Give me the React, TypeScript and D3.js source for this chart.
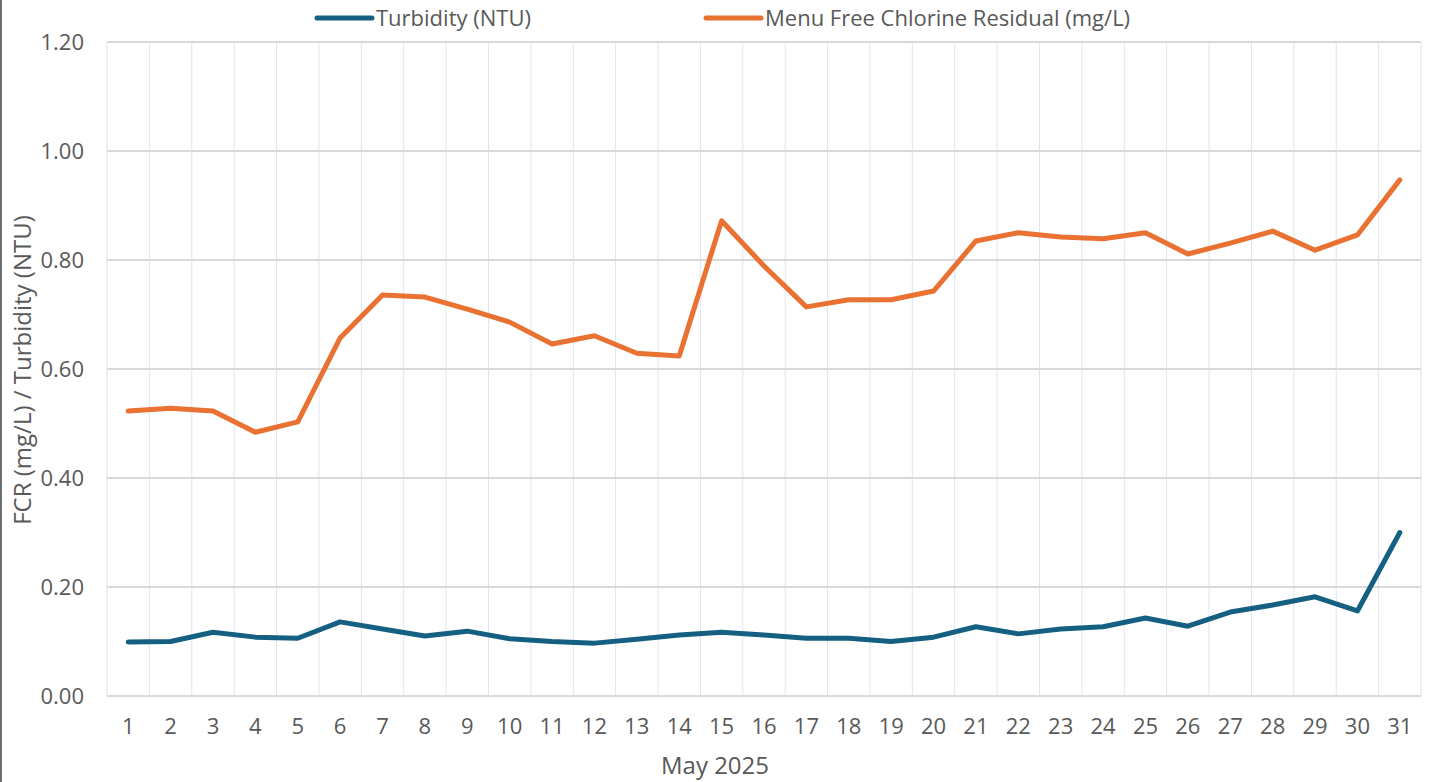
import React, { useEffect, useRef } from 'react'
import * as d3 from 'd3'

const days = Array.from({ length: 31 }, (_, i) => String(i + 1))
const turbidity = [0.099, 0.1, 0.117, 0.108, 0.106, 0.136, 0.123, 0.11, 0.119, 0.105, 0.1, 0.097, 0.104, 0.112, 0.117, 0.112, 0.106, 0.106, 0.1, 0.108, 0.127, 0.114, 0.123, 0.127, 0.143, 0.128, 0.154, 0.167, 0.182, 0.156, 0.3]
const fcr = [0.523, 0.528, 0.523, 0.484, 0.503, 0.657, 0.736, 0.732, 0.71, 0.686, 0.646, 0.661, 0.629, 0.624, 0.872, 0.789, 0.714, 0.727, 0.727, 0.743, 0.835, 0.85, 0.842, 0.839, 0.85, 0.811, 0.831, 0.853, 0.818, 0.846, 0.947]
const yTicks = [0, 0.2, 0.4, 0.6, 0.8, 1.0, 1.2]
const seriesNames = ['Turbidity (NTU)', 'Menu Free Chlorine Residual (mg/L)']
const seriesColors = ['#156082', '#E97132']

const W = 1435
const H = 782
const FONT = '"Open Sans", sans-serif'

export default function App() {
  const ref = useRef<SVGSVGElement>(null)

  useEffect(() => {
    const svg = d3.select(ref.current)
    svg.selectAll('*').remove()

    // plot area bounds
    const left = 107, right = 1421, top = 42, bottom = 696

    const x = d3.scaleBand().domain(days).range([left, right])
    const y = d3.scaleLinear().domain([0, 1.2]).range([bottom, top])

    // chart frame edge on the left
    svg.append('line')
      .attr('x1', 1).attr('x2', 1).attr('y1', 0).attr('y2', H)
      .attr('stroke', '#6f6f6f').attr('stroke-width', 2)

    // vertical minor gridlines at category boundaries
    const g = svg.append('g')
    g.selectAll('line.v')
      .data(d3.range(days.length + 1))
      .join('line')
      .attr('x1', d => left + d * x.step())
      .attr('x2', d => left + d * x.step())
      .attr('y1', top).attr('y2', bottom)
      .attr('stroke', '#dde5f0').attr('stroke-width', 1)

    // horizontal gridlines
    g.selectAll('line.h')
      .data(yTicks)
      .join('line')
      .attr('x1', left).attr('x2', right)
      .attr('y1', d => y(d)).attr('y2', d => y(d))
      .attr('stroke', '#d9d9d9').attr('stroke-width', 2)

    // y tick labels
    g.selectAll('text.yt')
      .data(yTicks)
      .join('text')
      .attr('x', 84).attr('y', d => y(d))
      .attr('dy', '0.36em')
      .attr('text-anchor', 'end')
      .attr('font-family', FONT).attr('font-size', 22)
      .attr('fill', '#595959')
      .text(d => d.toFixed(2))

    // x tick labels
    g.selectAll('text.xt')
      .data(days)
      .join('text')
      .attr('x', d => (x(d) as number) + x.bandwidth() / 2)
      .attr('y', 734)
      .attr('text-anchor', 'middle')
      .attr('font-family', FONT).attr('font-size', 22)
      .attr('fill', '#595959')
      .text(d => d)

    // axis titles
    svg.append('text')
      .attr('x', 715).attr('y', 774)
      .attr('text-anchor', 'middle')
      .attr('font-family', FONT).attr('font-size', 24)
      .attr('fill', '#595959')
      .text('May 2025')
    svg.append('text')
      .attr('transform', `translate(31,370) rotate(-90)`)
      .attr('text-anchor', 'middle')
      .attr('font-family', FONT).attr('font-size', 24)
      .attr('fill', '#595959')
      .text('FCR (mg/L) / Turbidity (NTU)')

    // lines
    const lineGen = d3.line<number>()
      .x((_, i) => (x(days[i]) as number) + x.bandwidth() / 2)
      .y(d => y(d))
    ;[turbidity, fcr].forEach((s, i) => {
      svg.append('path')
        .datum(s)
        .attr('fill', 'none')
        .attr('stroke', seriesColors[i])
        .attr('stroke-width', 5)
        .attr('stroke-linejoin', 'round')
        .attr('stroke-linecap', 'round')
        .attr('d', lineGen)
    })

    // legend
    const legendX = [317, 706]
    seriesNames.forEach((name, i) => {
      const lg = svg.append('g').attr('transform', `translate(${legendX[i]},18)`)
      lg.append('line')
        .attr('x1', 0).attr('x2', 55).attr('y1', 0).attr('y2', 0)
        .attr('stroke', seriesColors[i]).attr('stroke-width', 5)
        .attr('stroke-linecap', 'round')
      lg.append('text')
        .attr('x', 59).attr('y', 0).attr('dy', '0.36em')
        .attr('font-family', FONT).attr('font-size', 22)
        .attr('fill', '#595959')
        .text(name)
    })
  }, [])

  return (
    <svg
      ref={ref}
      width={W}
      height={H}
      style={{ position: 'absolute', left: 0, top: 0, background: '#fff' }}
    />
  )
}
